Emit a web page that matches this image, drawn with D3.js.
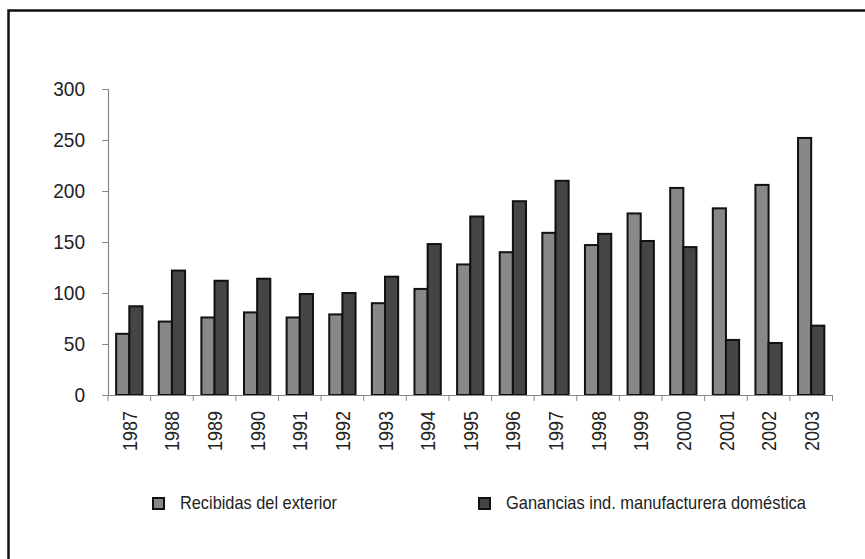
<!DOCTYPE html>
<html>
<head>
<meta charset="utf-8">
<script src="https://cdn.jsdelivr.net/npm/d3@7"></script>
<style>
  html, body { margin: 0; padding: 0; background: #fff; }
  svg { display: block; }
  text { font-family: "Liberation Sans", Arial, sans-serif; fill: #222; }
</style>
</head>
<body>
<svg id="chart" width="865" height="559"></svg>
<script>
const years = ["1987","1988","1989","1990","1991","1992","1993","1994","1995","1996","1997","1998","1999","2000","2001","2002","2003"];
const recibidas = [60, 72, 76, 81, 76, 79, 90, 104, 128, 140, 159, 147, 178, 203, 183, 206, 252];
const ganancias = [87, 122, 112, 114, 99, 100, 116, 148, 175, 190, 210, 158, 151, 145, 54, 51, 68];
const seriesNames = ["Recibidas del exterior", "Ganancias ind. manufacturera doméstica"];
const seriesColors = ["#888888", "#454545"];
const yTicks = [0, 50, 100, 150, 200, 250, 300];

(function () {
const FONT = '"Liberation Sans", Arial, sans-serif';
const svg = d3.select("#chart");

// outer frame (open on right/bottom, cropped)
svg.append("rect")
  .attr("x", 8.5).attr("y", 10.5)
  .attr("width", 1000).attr("height", 1000)
  .attr("fill", "none").attr("stroke", "#111").attr("stroke-width", 2.5);

const pLeft = 108, pRight = 832.5, pTop = 89, pBottom = 395;

const x = d3.scaleBand().domain(years).range([pLeft, pRight]).paddingInner(0).paddingOuter(0);
const inner = d3.scaleBand().domain([0, 1]).range([0, x.bandwidth()]).paddingInner(0).paddingOuter(0.62);
const y = d3.scaleLinear().domain([0, 300]).range([pBottom, pTop]);

const series = [recibidas, ganancias];
const g = svg.append("g");
series.forEach((vals, si) => {
  g.selectAll(null).data(years).enter().append("rect")
    .attr("x", d => x(d) + inner(si))
    .attr("y", (d, i) => y(vals[i]))
    .attr("width", inner.bandwidth())
    .attr("height", (d, i) => pBottom - y(vals[i]))
    .attr("fill", seriesColors[si])
    .attr("stroke", "#111")
    .attr("stroke-width", 2);
});

// y axis
const yAxis = svg.append("g").attr("transform", `translate(${pLeft},0)`)
  .call(d3.axisLeft(y).tickValues(yTicks).tickSize(6).tickPadding(17));
yAxis.select(".domain").attr("stroke", "#888").attr("stroke-width", 1.2);
yAxis.selectAll(".tick line").attr("stroke", "#888");
yAxis.selectAll("text").attr("font-size", 21).attr("fill", "#222").style("font-family", FONT)
  .attr("textLength", d => String(d).length * 10.6).attr("lengthAdjust", "spacingAndGlyphs");

// x axis
const xAxis = svg.append("g").attr("transform", `translate(0,${pBottom})`)
  .call(d3.axisBottom(x).tickSize(0).tickFormat(d => d));
xAxis.select(".domain").attr("stroke", "#888").attr("stroke-width", 1.2);
const bounds = years.map(d => x(d)).concat([pRight]);
xAxis.selectAll(".bt").data(bounds).enter().append("line")
  .attr("x1", d => d).attr("x2", d => d).attr("y1", 0).attr("y2", 6)
  .attr("stroke", "#888");
xAxis.selectAll(".tick text")
  .attr("font-size", 21).attr("fill", "#222").style("font-family", FONT)
  .attr("text-anchor", "end")
  .attr("transform", "rotate(-90)")
  .attr("x", -16).attr("y", 0).attr("dy", "0.36em")
  .attr("textLength", 40).attr("lengthAdjust", "spacingAndGlyphs");

// legend
const legendX = [153, 479];
const legendW = [157, 300];
seriesNames.forEach((name, i) => {
  svg.append("rect").attr("x", legendX[i]).attr("y", 498).attr("width", 11).attr("height", 11)
    .attr("fill", seriesColors[i]).attr("stroke", "#111").attr("stroke-width", 2);
  svg.append("text").attr("x", legendX[i] + 27).attr("y", 509)
    .attr("font-size", 19).attr("textLength", legendW[i]).attr("lengthAdjust", "spacingAndGlyphs")
    .text(name);
});
})();
</script>
</body>
</html>
